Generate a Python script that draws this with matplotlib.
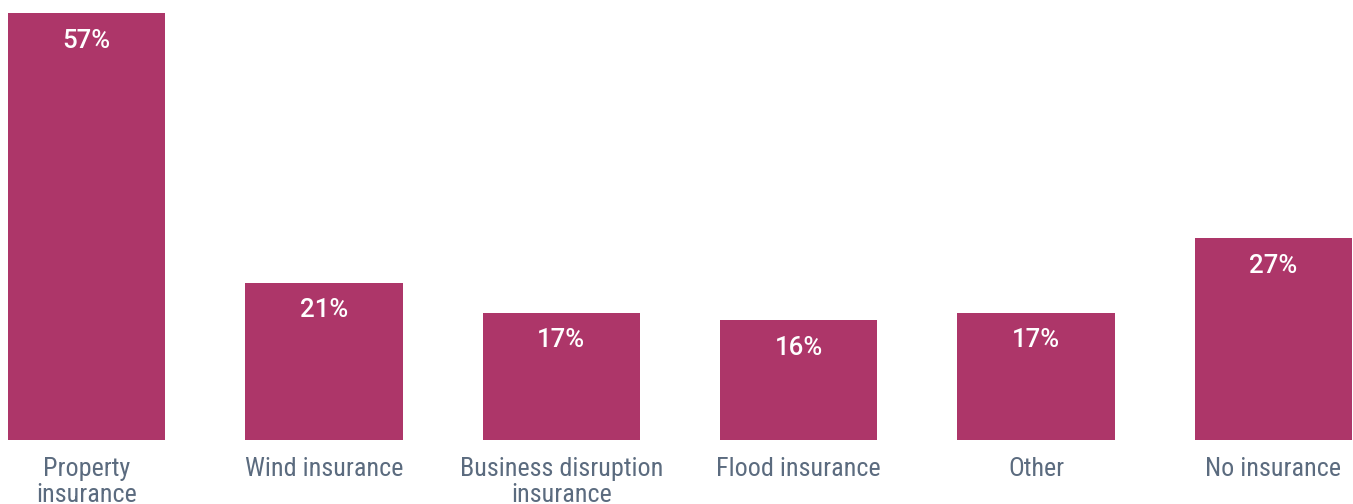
import matplotlib.pyplot as plt

categories = ["Property\ninsurance", "Wind insurance", "Business disruption\ninsurance",
              "Flood insurance", "Other", "No insurance"]
shares = [57, 21, 17, 16, 17, 27]
value_labels = ["57%", "21%", "17%", "16%", "17%", "27%"]

BAR_COLOR = "#AD3669"
TEXT_COLOR = "#5B6B7F"

W, H = 1353, 504
fig = plt.figure(figsize=(W / 100, H / 100), dpi=100)
ax = fig.add_axes([8 / W, 1 - 440 / H, (1352 - 8) / W, (440 - 13) / H])

width = 0.662
x = list(range(len(categories)))
bars = ax.bar(x, shares, width=width, color=BAR_COLOR)

ax.set_xlim(-width / 2, len(categories) - 1 + width / 2)
ax.set_ylim(0, max(shares))

for rect, lab in zip(bars, value_labels):
    ax.annotate(lab, (rect.get_x() + rect.get_width() / 2, rect.get_height()),
                xytext=(0, -20), textcoords="offset points", ha="center", va="center",
                color="white", fontsize=18.5, fontweight="medium",
                family=["Roboto", "DejaVu Sans"])

ax.set_xticks(x)
ax.set_xticklabels(categories, color=TEXT_COLOR, fontsize=18.8, linespacing=1.12,
                   family=["Roboto Condensed", "Liberation Sans Narrow", "Roboto"])
ax.tick_params(axis="x", length=0, pad=12)
ax.set_yticks([])
for s in ax.spines.values():
    s.set_visible(False)

fig.savefig("out.png", dpi=100)
